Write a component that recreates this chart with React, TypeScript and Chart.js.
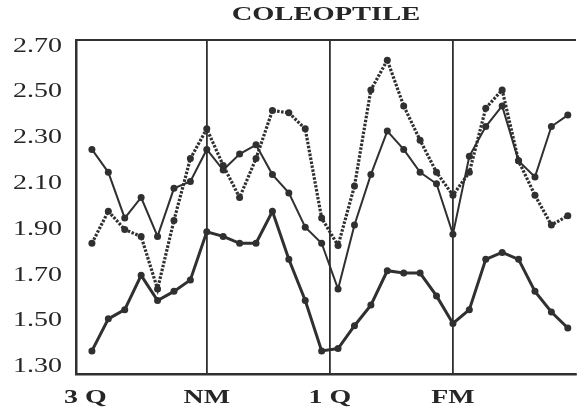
import React, { useEffect, useRef } from "react";
import { Chart, registerables } from "chart.js";

Chart.register(...registerables);

// ---- data ----
const dayIndex = [0, 1, 2, 3, 4, 5, 6, 7, 8, 9, 10, 11, 12, 13, 14, 15, 16, 17, 18, 19, 20, 21, 22, 23, 24, 25, 26, 27, 28, 29];

const upperSolid = [2.25, 2.15, 1.95, 2.04, 1.87, 2.08, 2.11, 2.25, 2.16, 2.23, 2.27, 2.14, 2.06, 1.91, 1.84, 1.64, 1.92, 2.14, 2.33, 2.25, 2.15, 2.10, 1.88, 2.22, 2.35, 2.44, 2.20, 2.13, 2.35, 2.40];

const dottedSeries = [1.84, 1.98, 1.90, 1.87, 1.64, 1.94, 2.21, 2.34, 2.18, 2.04, 2.21, 2.42, 2.41, 2.34, 1.95, 1.83, 2.09, 2.51, 2.64, 2.44, 2.29, 2.15, 2.05, 2.15, 2.43, 2.51, 2.20, 2.05, 1.92, 1.96];

const lowerSolid = [1.37, 1.51, 1.55, 1.70, 1.59, 1.63, 1.68, 1.89, 1.87, 1.84, 1.84, 1.98, 1.77, 1.59, 1.37, 1.38, 1.48, 1.57, 1.72, 1.71, 1.71, 1.61, 1.49, 1.55, 1.77, 1.80, 1.77, 1.63, 1.54, 1.47];

const phaseLabels = ["3 Q", "NM", "1 Q", "FM"];
const phasePositions = [-0.4, 7, 14.5, 22];
const yTickValues = [1.3, 1.5, 1.7, 1.9, 2.1, 2.3, 2.5, 2.7];
const titleText = "COLEOPTILE";

const INK = "#303030";
const TEXT = "#262626";

function toPoints(values: number[]) {
  return values.map((v, i) => ({ x: dayIndex[i], y: v }));
}

function drawStretched(ctx: CanvasRenderingContext2D, items: any[], sx: number) {
  for (const item of items) {
    const { label, font, textOffset, options } = item;
    const [tx, ty] = options.translation;
    ctx.save();
    ctx.translate(tx, ty);
    ctx.scale(sx, 1);
    ctx.font = font.string;
    ctx.fillStyle = options.color;
    ctx.textAlign = options.textAlign;
    ctx.textBaseline = options.textBaseline;
    ctx.fillText(String(label), 0, textOffset);
    ctx.restore();
  }
}

const stretchPlugin = {
  id: "stretchText",
  afterLayout(chart: any) {
    const xs: any = chart.scales.x;
    const ys: any = chart.scales.y;
    if (xs && !xs.__patched) {
      xs.__patched = true;
      xs.drawLabels = function (chartArea: any) {
        drawStretched(this.ctx, this.getLabelItems(chartArea), 1.55);
      };
    }
    if (ys && !ys.__patched) {
      ys.__patched = true;
      ys.drawLabels = function (chartArea: any) {
        drawStretched(this.ctx, this.getLabelItems(chartArea), 1.4);
      };
    }
    const tb: any = chart.titleBlock;
    if (tb && !tb.__patched) {
      tb.__patched = true;
      tb.draw = function () {
        const ctx: CanvasRenderingContext2D = this.ctx;
        const size = 19;
        ctx.save();
        ctx.font = `bold ${size}px 'Liberation Serif', serif`;
        ctx.fillStyle = TEXT;
        ctx.textAlign = "center";
        ctx.textBaseline = "middle";
        const x = (this.left + this.right) / 2;
        const y = this.top + 4 + (size * 1.2) / 2;
        ctx.translate(x, y);
        ctx.scale(1.5, 1);
        ctx.fillText(String(this.options.text), 0, 0);
        ctx.restore();
      };
    }
  },
  afterDraw(chart: any) {
    const { left, right, top } = chart.chartArea;
    const ctx = chart.ctx;
    ctx.save();
    ctx.strokeStyle = INK;
    ctx.lineWidth = 2;
    ctx.beginPath();
    ctx.moveTo(left, top);
    ctx.lineTo(right, top);
    ctx.stroke();
    ctx.restore();
  },
};

export default function App() {
  const canvasRef = useRef<HTMLCanvasElement | null>(null);

  useEffect(() => {
    if (!canvasRef.current) return;
    const chart = new Chart(canvasRef.current, {
      type: "line",
      data: {
        datasets: [
          {
            label: "upper",
            data: toPoints(upperSolid),
            borderColor: INK,
            borderWidth: 2,
            pointRadius: 3.5,
            pointBackgroundColor: INK,
            pointBorderWidth: 0,
            tension: 0,
          },
          {
            label: "dotted",
            data: toPoints(dottedSeries),
            borderColor: INK,
            borderWidth: 3.2,
            borderDash: [2.5, 1.5],
            pointRadius: 3.5,
            pointBackgroundColor: INK,
            pointBorderWidth: 0,
            tension: 0,
          },
          {
            label: "lower",
            data: toPoints(lowerSolid),
            borderColor: INK,
            borderWidth: 3,
            pointRadius: 3.5,
            pointBackgroundColor: INK,
            pointBorderWidth: 0,
            tension: 0,
          },
        ],
      },
      options: {
        animation: false,
        responsive: false,
        layout: { padding: 0 },
        plugins: {
          legend: { display: false },
          tooltip: { enabled: false },
          title: {
            display: true,
            text: titleText,
            fullSize: false,
            color: TEXT,
            font: { family: "'Liberation Serif', serif", size: 19, weight: "bold" },
            padding: { top: 4, bottom: 13.2 },
          },
        },
        scales: {
          x: {
            type: "linear",
            min: -0.97,
            max: 29.5,
            afterBuildTicks: (scale: any) => {
              scale.ticks = phasePositions.map((v) => ({ value: v }));
            },
            afterFit: (scale: any) => {
              scale.height = 35;
            },
            ticks: {
              autoSkip: false,
              maxRotation: 0,
              padding: 14,
              color: TEXT,
              font: { family: "'Liberation Serif', serif", size: 18, weight: "bold" },
              callback: (_v: any, i: number) => phaseLabels[i],
            },
            grid: {
              drawTicks: false,
              lineWidth: 1.8,
              color: (c: any) => (c.tick && c.tick.value < 0 ? "rgba(0,0,0,0)" : INK),
            },
            border: { display: true, color: INK, width: 2.5 },
          },
          y: {
            type: "linear",
            min: 1.269,
            max: 2.728,
            afterBuildTicks: (scale: any) => {
              scale.ticks = yTickValues.map((v) => ({ value: v }));
            },
            afterFit: (scale: any) => {
              scale.width = 76;
            },
            ticks: {
              padding: 14,
              color: TEXT,
              font: { family: "'Liberation Serif', serif", size: 20 },
              callback: (v: any) => Number(v).toFixed(2),
            },
            grid: { display: false, drawTicks: false },
            border: { display: true, color: INK, width: 2.5 },
          },
        },
      },
      plugins: [stretchPlugin],
    });
    return () => chart.destroy();
  }, []);

  return (
    <div style={{ position: "fixed", left: 0, top: 0, width: 580, height: 409, background: "#fff" }}>
      <canvas ref={canvasRef} width={580} height={409} />
    </div>
  );
}
